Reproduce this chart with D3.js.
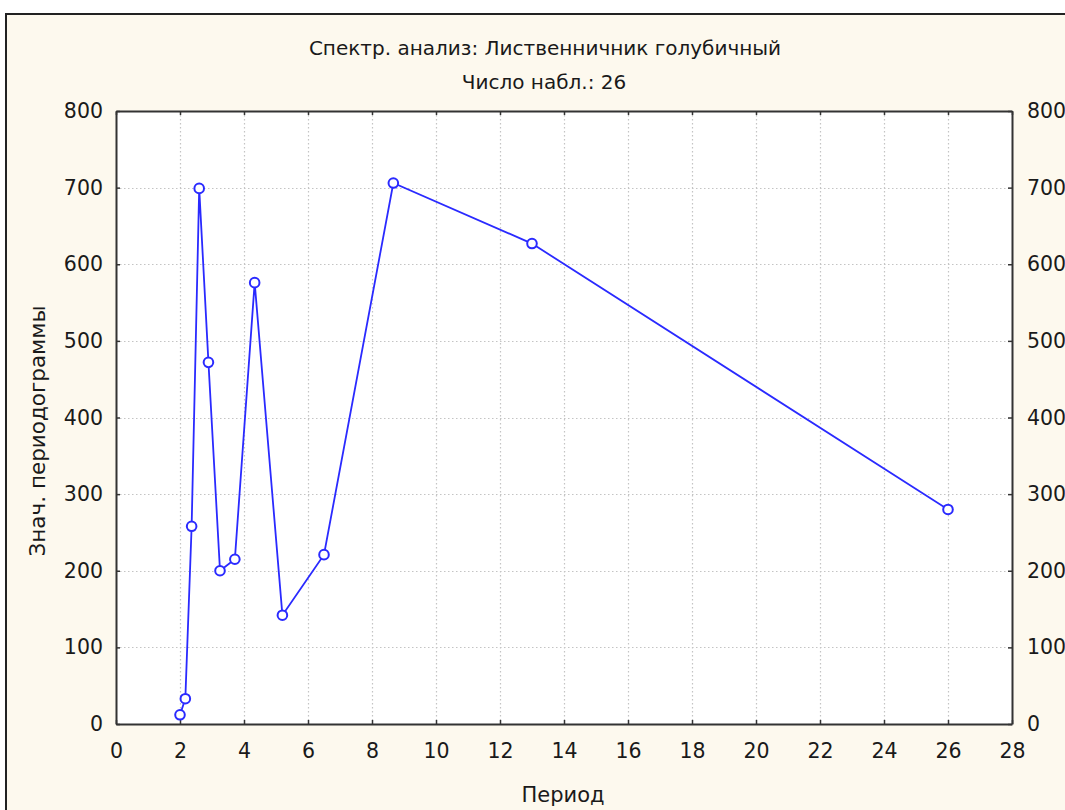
<!DOCTYPE html>
<html><head><meta charset="utf-8">
<script src="https://cdn.jsdelivr.net/npm/d3@7"></script>
<style>
html,body{margin:0;padding:0;background:#fff;}
svg text{font-family:"DejaVu Sans",Verdana,sans-serif;fill:#1a1a1a;}
</style></head>
<body>
<svg id="chart" width="1065" height="810"></svg>
<script>
const titleLines = ["Спектр. анализ: Лиственничник голубичный", "Число набл.: 26"];
const xLabel = "Период";
const yLabel = "Знач. периодограммы";
const periods = [2.0, 2.1667, 2.3636, 2.6, 2.8889, 3.25, 3.7143, 4.3333, 5.2, 6.5, 8.6667, 13, 26];
const values  = [12, 33, 258, 699, 472, 200, 215, 576, 142, 221, 706, 627, 280];
const xTicks = [0,2,4,6,8,10,12,14,16,18,20,22,24,26,28];
const yTicks = [0,100,200,300,400,500,600,700,800];

const svg = d3.select("#chart");
const W = 1065, H = 810;
const m = {left:116, right:1012, top:111, bottom:724};
const FONT = "DejaVu Sans, Verdana, sans-serif";

// outer panel
svg.append("rect").attr("x",6).attr("y",14).attr("width",W).attr("height",H).attr("fill","#fdf9ee");
svg.append("path").attr("d",`M6,${H} V14 H${W}`).attr("fill","none").attr("stroke","#222").attr("stroke-width",2);

const x = d3.scaleLinear().domain([0,28]).range([m.left,m.right]);
const y = d3.scaleLinear().domain([0,800]).range([m.bottom,m.top]);

// plot area
svg.append("rect").attr("x",m.left).attr("y",m.top).attr("width",m.right-m.left).attr("height",m.bottom-m.top).attr("fill","#fff");

// gridlines
const grid = svg.append("g").attr("stroke","#c4c4c4").attr("stroke-dasharray","1.5,2.5").attr("stroke-width",1.2);
grid.selectAll(".gx").data(xTicks.slice(1,-1)).join("line")
  .attr("x1",d=>Math.round(x(d))+0.5).attr("x2",d=>Math.round(x(d))+0.5).attr("y1",m.top).attr("y2",m.bottom);
grid.selectAll(".gy").data(yTicks.slice(1,-1)).join("line")
  .attr("y1",d=>Math.round(y(d))+0.5).attr("y2",d=>Math.round(y(d))+0.5).attr("x1",m.left).attr("x2",m.right);

// axes (ticks inside)
const fs = 20.5;
const axL = svg.append("g").attr("transform",`translate(${m.left},0)`).call(d3.axisLeft(y).tickValues(yTicks).tickSizeInner(-4).tickSizeOuter(0).tickPadding(13));
const axR = svg.append("g").attr("transform",`translate(${m.right},0)`).call(d3.axisRight(y).tickValues(yTicks).tickSizeInner(-4).tickSizeOuter(0).tickPadding(15));
const axB = svg.append("g").attr("transform",`translate(0,${m.bottom})`).call(d3.axisBottom(x).tickValues(xTicks).tickSizeInner(-4).tickSizeOuter(0).tickPadding(19));
const axT = svg.append("g").attr("transform",`translate(0,${m.top})`).call(d3.axisTop(x).tickValues(xTicks).tickSizeInner(-4).tickSizeOuter(0).tickFormat(""));
[axL,axR,axB,axT].forEach(a=>{
  a.select(".domain").attr("stroke","#333").attr("stroke-width",2);
  a.selectAll(".tick line").attr("stroke","#333").attr("stroke-width",1.5);
  a.selectAll(".tick text").attr("font-size",fs).attr("font-family",FONT).attr("fill","#1a1a1a");
});

// series
const line = d3.line().x((d,i)=>x(periods[i])).y(d=>y(d));
svg.append("path").datum(values).attr("d",line).attr("fill","none").attr("stroke","#2a2aff").attr("stroke-width",1.8);
svg.selectAll(".pt").data(values).join("circle")
  .attr("cx",(d,i)=>x(periods[i])).attr("cy",d=>y(d)).attr("r",4.8)
  .attr("fill","#fff").attr("stroke","#2a2aff").attr("stroke-width",2);

// titles
svg.append("text").attr("x",545).attr("y",55).attr("text-anchor","middle").attr("font-size",20).text(titleLines[0]);
svg.append("text").attr("x",544).attr("y",89).attr("text-anchor","middle").attr("font-size",20).text(titleLines[1]);
svg.append("text").attr("x",563).attr("y",802).attr("text-anchor","middle").attr("font-size",21).text(xLabel);
svg.append("text").attr("transform","translate(45,431) rotate(-90)").attr("text-anchor","middle").attr("font-size",21.5).text(yLabel);
</script>
</body></html>
